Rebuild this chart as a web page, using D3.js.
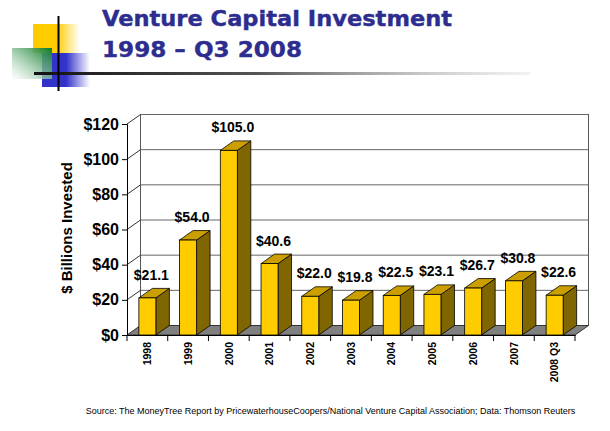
<!DOCTYPE html>
<html>
<head>
<meta charset="utf-8">
<script src="https://cdn.jsdelivr.net/npm/d3@7"></script>
<style>
  body { margin: 0; background: #fff; }
  svg { display: block; }
</style>
</head>
<body>
<div id="chart"></div>
<script>
// data
var years = ["1998", "1999", "2000", "2001", "2002", "2003", "2004", "2005", "2006", "2007", "2008 Q3"];
var invested = [21.1, 54.0, 105.0, 40.6, 22.0, 19.8, 22.5, 23.1, 26.7, 30.8, 22.6];
var yTicks = [0, 20, 40, 60, 80, 100, 120];
var titleLines = ["Venture Capital Investment", "1998 \u2013 Q3 2008"];
var sourceNote = "Source: The MoneyTree Report by PricewaterhouseCoopers/National Venture Capital Association; Data: Thomson Reuters";

var width = 610, height = 431;
var depthX = 13.5, depthY = -9.5; // 3d offset of the back plane
var sans = "'Liberation Sans', Arial, Helvetica, sans-serif";

var svg = d3.select("#chart").append("svg")
    .attr("width", width)
    .attr("height", height);

var defs = svg.append("defs");

function hGrad(id, color, solidTo) {
    var g = defs.append("linearGradient").attr("id", id)
        .attr("x1", 0).attr("x2", 1).attr("y1", 0).attr("y2", 0);
    g.append("stop").attr("offset", 0).attr("stop-color", color);
    g.append("stop").attr("offset", solidTo).attr("stop-color", color);
    g.append("stop").attr("offset", 1).attr("stop-color", color).attr("stop-opacity", 0);
}
hGrad("yellowFade", "#ffcc00", 0.5);
hGrad("blueFade", "#3333cc", 0.5);

var green = defs.append("linearGradient").attr("id", "greenFade")
    .attr("x1", 1).attr("y1", 0).attr("x2", 0).attr("y2", 1);
green.append("stop").attr("offset", 0).attr("stop-color", "#087a28");
green.append("stop").attr("offset", 1).attr("stop-color", "#ffffff").attr("stop-opacity", 0.6);

var lineFade = defs.append("linearGradient").attr("id", "lineFade")
    .attr("x1", 0).attr("x2", 1).attr("y1", 0).attr("y2", 0);
lineFade.append("stop").attr("offset", 0).attr("stop-color", "#111");
lineFade.append("stop").attr("offset", 0.45).attr("stop-color", "#555");
lineFade.append("stop").attr("offset", 1).attr("stop-color", "#ddd").attr("stop-opacity", 0.4);

// logo
var logo = svg.append("g");
logo.append("rect").attr("x", 33).attr("y", 24).attr("width", 47).attr("height", 29).attr("fill", "url(#yellowFade)");
logo.append("rect").attr("x", 42).attr("y", 53).attr("width", 48).attr("height", 34).attr("fill", "url(#blueFade)");
logo.append("rect").attr("x", 12).attr("y", 48).attr("width", 40).attr("height", 31).attr("fill", "url(#greenFade)");
logo.append("rect").attr("x", 34).attr("y", 72).attr("width", 496).attr("height", 3).attr("fill", "url(#lineFade)");
logo.append("line").attr("x1", 58.5).attr("x2", 58.5).attr("y1", 16).attr("y2", 91)
    .attr("stroke", "#000").attr("stroke-width", 2);

// title
var titleLen = [350, 200];
svg.selectAll(".title")
    .data(titleLines)
    .enter().append("text")
    .attr("class", "title")
    .attr("x", 102)
    .attr("y", function (d, i) { return 26 + i * 31; })
    .attr("textLength", function (d, i) { return titleLen[i]; })
    .attr("lengthAdjust", "spacingAndGlyphs")
    .attr("font-family", "Tahoma, 'DejaVu Sans', Verdana, sans-serif")
    .attr("font-weight", "bold")
    .attr("font-size", 22)
    .attr("stroke", "#2d2d8f")
    .attr("stroke-width", 0.4)
    .attr("fill", "#2d2d8f")
    .text(function (d) { return d; });

// scales
var x = d3.scaleBand()
    .domain(years)
    .range([127, 575]);

var y = d3.scaleLinear()
    .domain([0, 120])
    .range([335, 124]);

var x0 = x.range()[0], x1 = x.range()[1], yBase = y(0);

// back wall and side wall
var wall = svg.append("g");
wall.append("rect")
    .attr("x", x0 + depthX).attr("y", y(120) + depthY)
    .attr("width", x1 - x0).attr("height", y(0) - y(120))
    .attr("fill", "#fff").attr("stroke", "#555").attr("stroke-width", 1);

yTicks.forEach(function (t) {
    if (t === 0) return;
    wall.append("line")
        .attr("x1", x0 + depthX).attr("x2", x1 + depthX)
        .attr("y1", y(t) + depthY).attr("y2", y(t) + depthY)
        .attr("stroke", "#666").attr("stroke-width", 1);
    wall.append("line")
        .attr("x1", x0).attr("x2", x0 + depthX)
        .attr("y1", y(t)).attr("y2", y(t) + depthY)
        .attr("stroke", "#333").attr("stroke-width", 1);
});

// floor
wall.append("polygon")
    .attr("points", [[x0, yBase], [x1, yBase], [x1 + depthX, yBase + depthY], [x0 + depthX, yBase + depthY]].join(" "))
    .attr("fill", "#808080").attr("stroke", "#333").attr("stroke-width", 1);

// y axis
var yAxis = d3.axisLeft(y)
    .tickValues(yTicks)
    .tickSize(5)
    .tickFormat(function (d) { return "$" + d; });

var gy = svg.append("g")
    .attr("transform", "translate(" + x0 + ",0)")
    .call(yAxis);
gy.select(".domain").attr("stroke", "#000");
gy.selectAll(".tick line").attr("stroke", "#000");
gy.selectAll(".tick text")
    .attr("font-family", sans)
    .attr("font-weight", "bold")
    .attr("font-size", 16)
    .attr("fill", "#000");

// x axis
var xAxis = d3.axisBottom(x).tickSize(0).tickPadding(0);
var gx = svg.append("g")
    .attr("transform", "translate(0," + yBase + ")")
    .call(xAxis);
gx.select(".domain").attr("stroke", "#000");
gx.selectAll(".tick text")
    .attr("transform", "rotate(-90)")
    .attr("text-anchor", "end")
    .attr("x", -7)
    .attr("y", 0)
    .attr("dy", "0.35em")
    .attr("font-family", sans)
    .attr("font-weight", "bold")
    .attr("font-size", 10.5)
    .attr("fill", "#000");

// category boundary ticks
var bounds = years.map(function (d) { return x(d); }).concat([x1]);
gx.selectAll(".bound")
    .data(bounds)
    .enter().append("line")
    .attr("class", "bound")
    .attr("x1", function (d) { return d; })
    .attr("x2", function (d) { return d; })
    .attr("y1", 0).attr("y2", 6)
    .attr("stroke", "#000");

// bars
var barW = 17;
var bars = svg.selectAll(".bar")
    .data(invested)
    .enter().append("g")
    .attr("class", "bar");

function cx(i) { return x(years[i]) + x.bandwidth() / 2; }

bars.append("polygon")
    .attr("points", function (d, i) {
        var r = cx(i) + barW / 2, top = y(d);
        return [[r, top], [r + depthX, top + depthY], [r + depthX, yBase + depthY], [r, yBase]].join(" ");
    })
    .attr("fill", "#806600").attr("stroke", "#000").attr("stroke-width", 0.8);

bars.append("polygon")
    .attr("points", function (d, i) {
        var l = cx(i) - barW / 2, r = cx(i) + barW / 2, top = y(d);
        return [[l, top], [r, top], [r + depthX, top + depthY], [l + depthX, top + depthY]].join(" ");
    })
    .attr("fill", "#cc9f00").attr("stroke", "#000").attr("stroke-width", 0.8);

bars.append("rect")
    .attr("x", function (d, i) { return cx(i) - barW / 2; })
    .attr("y", function (d) { return y(d); })
    .attr("width", barW)
    .attr("height", function (d) { return yBase - y(d); })
    .attr("fill", "#ffcc00").attr("stroke", "#000").attr("stroke-width", 0.8);

// value labels
bars.append("text")
    .attr("x", function (d, i) { return cx(i) + 4; })
    .attr("y", function (d) { return y(d) - 18; })
    .attr("text-anchor", "middle")
    .attr("font-family", sans)
    .attr("font-weight", "bold")
    .attr("font-size", 14)
    .attr("fill", "#000")
    .text(function (d) { return "$" + d.toFixed(1); });

// y title
svg.append("text")
    .attr("transform", "translate(67,228) rotate(-90)")
    .attr("text-anchor", "middle")
    .attr("dy", "0.35em")
    .attr("font-family", sans)
    .attr("font-weight", "bold")
    .attr("font-size", 15)
    .text("$ Billions Invested");

// source
svg.append("text")
    .attr("x", 330.5)
    .attr("y", 411)
    .attr("dy", "0.35em")
    .attr("text-anchor", "middle")
    .attr("font-family", sans)
    .attr("font-size", 9)
    .attr("fill", "#000")
    .text(sourceNote);
</script>
</body>
</html>
